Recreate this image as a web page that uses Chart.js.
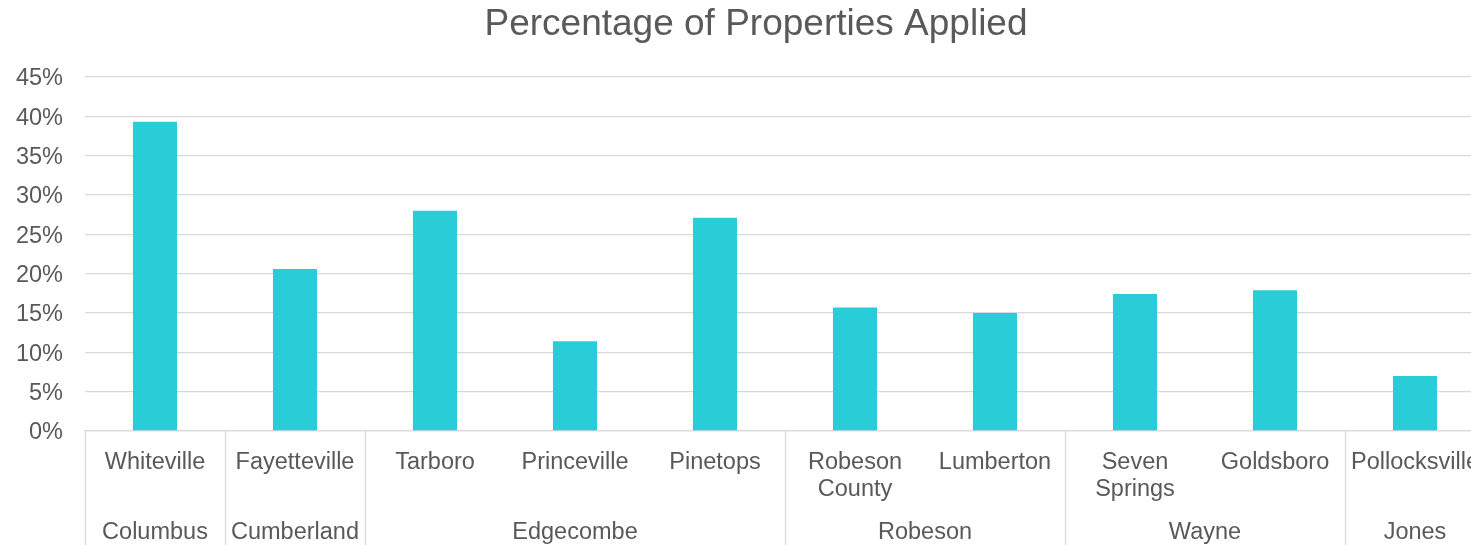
<!DOCTYPE html>
<html>
<head>
<meta charset="utf-8">
<script src="https://cdn.jsdelivr.net/npm/chart.js@4"></script>
<style>
  html, body { margin: 0; padding: 0; overflow: hidden; background: #ffffff; }
  #wrap { width: 1512px; height: 545px; position: relative; }
</style>
</head>
<body>
<div id="wrap"><canvas id="c"></canvas></div>
<script>
const cities = ["Whiteville", "Fayetteville", "Tarboro", "Princeville", "Pinetops",
  ["Robeson", "County"], "Lumberton", ["Seven", "Springs"], "Goldsboro", "Pollocksville"];
const counties = ["Columbus", "Cumberland", "Edgecombe", "Edgecombe", "Edgecombe",
  "Robeson", "Robeson", "Wayne", "Wayne", "Jones"];
const values = [39.3, 20.6, 28.0, 11.4, 27.1, 15.7, 15.0, 17.4, 17.9, 7.0];
const yTicks = [0, 5, 10, 15, 20, 25, 30, 35, 40, 45];
const titleText = "Percentage of Properties Applied";

const FONT = "'Liberation Sans', Arial, sans-serif";
const TEXT = "#595959";
const GRID = "#d9d9d9";
const LABEL_SIZE = 23.5;

const groupPlugin = {
  id: "groups",
  afterDraw(chart) {
    const ctx = chart.ctx;
    const x = chart.scales.x;
    const area = chart.chartArea;
    const step = x.getPixelForValue(1) - x.getPixelForValue(0);
    const bottom = chart.height;
    const groups = [];
    counties.forEach((c, i) => {
      if (groups.length && groups[groups.length - 1].name === c) {
        groups[groups.length - 1].end = i;
      } else {
        groups.push({ name: c, start: i, end: i });
      }
    });
    ctx.save();
    ctx.strokeStyle = GRID;
    ctx.lineWidth = 1.3;
    const edges = groups.map(g => x.getPixelForValue(g.start) - step / 2);
    const last = groups[groups.length - 1];
    edges.push(x.getPixelForValue(last.end) + step / 2);
    edges.forEach(px => {
      ctx.beginPath();
      ctx.moveTo(Math.round(px) + 0.5, area.bottom);
      ctx.lineTo(Math.round(px) + 0.5, bottom);
      ctx.stroke();
    });
    ctx.fillStyle = TEXT;
    ctx.font = LABEL_SIZE + "px " + FONT;
    ctx.textAlign = "center";
    ctx.textBaseline = "middle";
    groups.forEach(g => {
      const l = x.getPixelForValue(g.start) - step / 2;
      const r = x.getPixelForValue(g.end) + step / 2;
      ctx.fillText(g.name, (l + r) / 2, 533);
    });
    ctx.font = "37px " + FONT;
    ctx.textBaseline = "alphabetic";
    ctx.fillText(titleText, chart.width / 2, 35);
    ctx.restore();
  }
};

new Chart(document.getElementById("c"), {
  type: "bar",
  data: {
    labels: cities,
    datasets: [{
      data: values,
      backgroundColor: "#28CDD7",
      borderWidth: 0,
      barPercentage: 0.315,
      categoryPercentage: 1.0
    }]
  },
  options: {
    responsive: true,
    maintainAspectRatio: false,
    animation: false,
    layout: { padding: { left: 0, right: 27, top: 77, bottom: 0 } },
    plugins: {
      legend: { display: false },
      tooltip: { enabled: false },
      title: { display: false }
    },
    scales: {
      x: {
        grid: { display: false, drawTicks: false },
        border: { display: true, color: GRID, width: 1.3 },
        ticks: {
          color: TEXT,
          font: { family: FONT, size: LABEL_SIZE, lineHeight: 1.15 },
          padding: 18,
          maxRotation: 0,
          minRotation: 0,
          autoSkip: false
        },
        afterFit(s) { s.height = 114; }
      },
      y: {
        min: 0,
        max: 45,
        afterBuildTicks(s) { s.ticks = yTicks.map(v => ({ value: v })); },
        grid: { color: GRID, lineWidth: 1.3, drawTicks: false },
        border: { display: false },
        ticks: {
          color: TEXT,
          font: { family: FONT, size: LABEL_SIZE },
          padding: 22,
          labelOffset: 2,
          callback: v => v + "%"
        },
        afterFit(s) { s.width = 85; }
      }
    }
  },
  plugins: [groupPlugin]
});
</script>
</body>
</html>
